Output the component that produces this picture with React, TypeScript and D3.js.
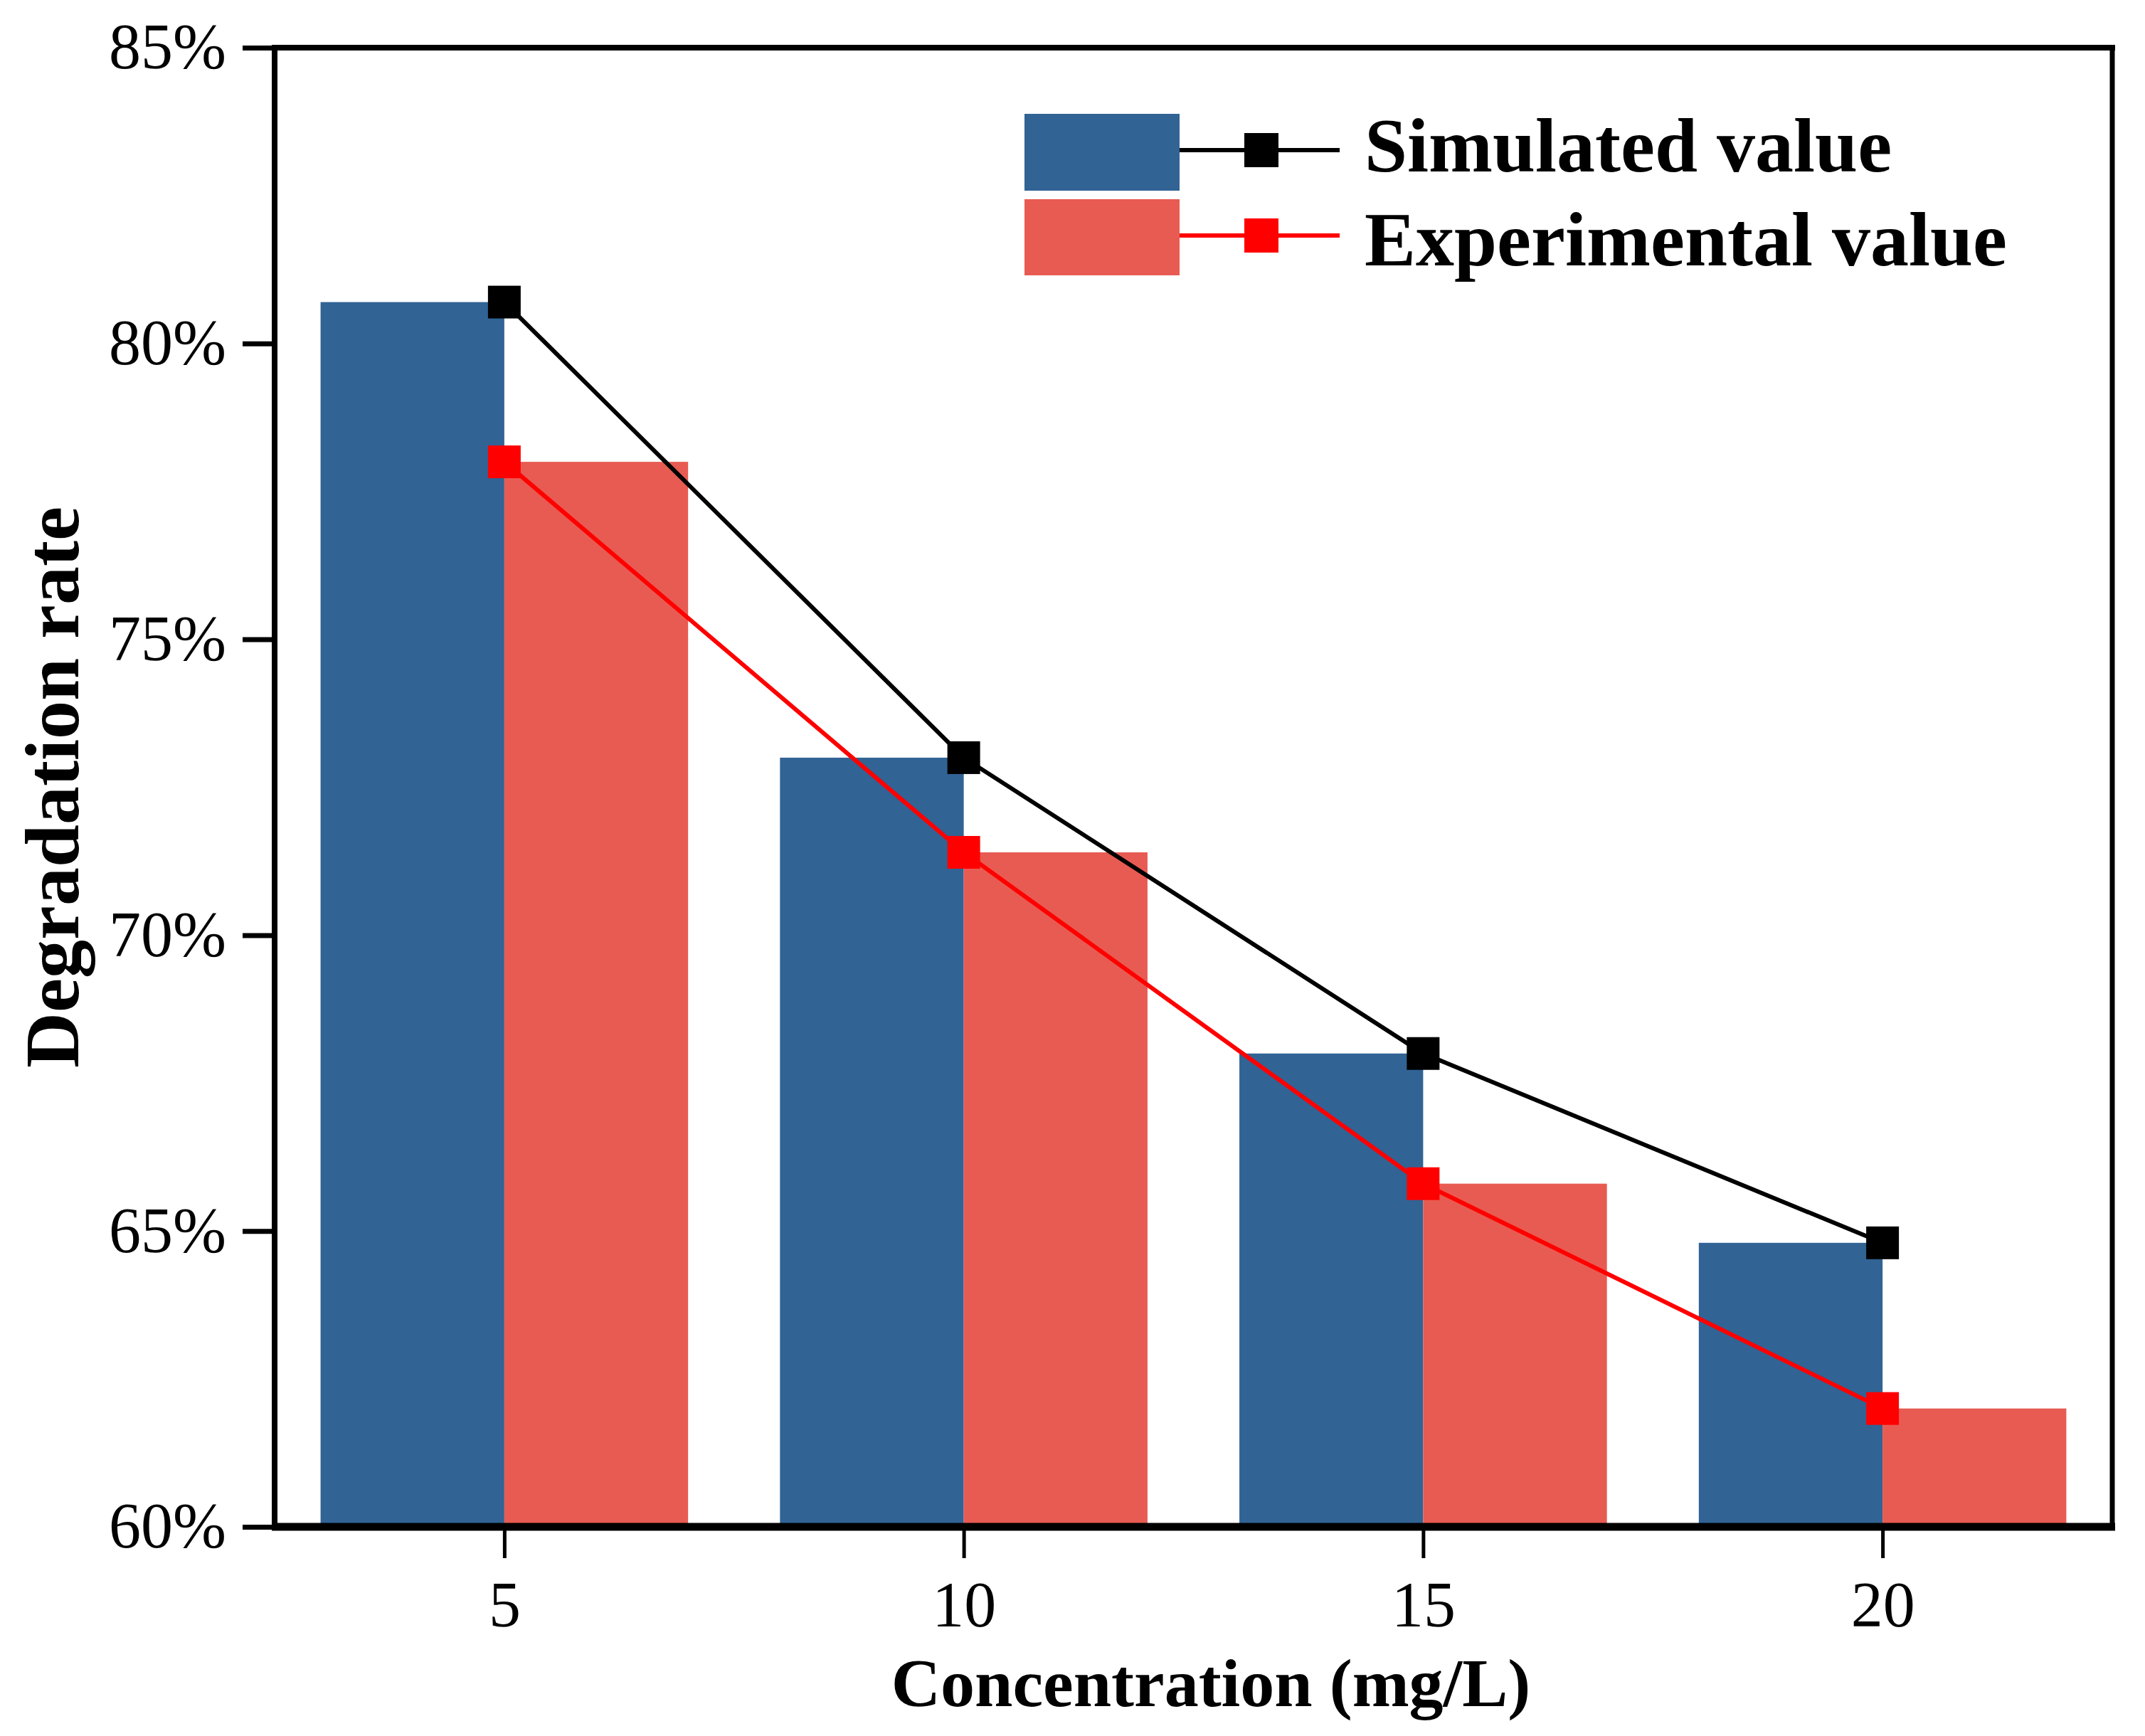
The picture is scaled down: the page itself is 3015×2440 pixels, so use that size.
import * as d3 from 'd3';
import { useEffect, useRef } from 'react';

const concentrations = [5, 10, 15, 20];
const simulated = [80.7, 73.0, 68.0, 64.8];
const experimental = [78.0, 71.4, 65.8, 62.0];
const yTicks = [60, 65, 70, 75, 80, 85];
const seriesNames = ['Simulated value', 'Experimental value'];

const BLUE = '#316395';
const RED = '#e85b52';
const FONT = '"Liberation Serif", "Times New Roman", serif';

const width = 3015;
const height = 2440;
const margin = { top: 67, right: 46, bottom: 294, left: 386 };
const plotRight = width - margin.right;
const plotBottom = height - margin.bottom;

const App = () => {
  const gx = useRef<SVGGElement | null>(null);
  const gy = useRef<SVGGElement | null>(null);

  const xScale = d3.scaleLinear().domain([2.5, 22.5]).range([margin.left, plotRight]);
  const yScale = d3.scaleLinear().domain([60, 85]).range([plotBottom, margin.top]);
  const halfBar = 2; // bar width in concentration units

  const line = d3
    .line<number>()
    .x((_d, i) => xScale(concentrations[i]))
    .y((d) => yScale(d));

  useEffect(() => {
    if (!gx.current) return;
    const g = d3.select(gx.current);
    g.call(
      d3
        .axisBottom(xScale)
        .tickValues(concentrations)
        .tickSize(40)
        .tickPadding(32)
        .tickFormat((d) => String(d))
    );
    g.select('.domain').remove();
    g.selectAll('line').attr('stroke', '#000').attr('stroke-width', 5);
    g.selectAll('text').attr('font-size', 90).attr('font-family', FONT).attr('fill', '#000');
  }, []);

  useEffect(() => {
    if (!gy.current) return;
    const g = d3.select(gy.current);
    g.call(
      d3
        .axisLeft(yScale)
        .tickValues(yTicks)
        .tickSize(41)
        .tickPadding(23)
        .tickFormat((d) => d + '%')
    );
    g.select('.domain').remove();
    g.selectAll('line').attr('stroke', '#000').attr('stroke-width', 7);
    g.selectAll('text').attr('font-size', 90).attr('font-family', FONT).attr('fill', '#000');
  }, []);

  const markerSize = 46;

  return (
    <svg
      width={width}
      height={height}
      style={{ position: 'absolute', left: 0, top: 0, background: '#fff' }}
    >
      {/* bars */}
      {concentrations.map((c, i) => (
        <g key={'bar' + c}>
          <rect
            x={xScale(c - halfBar)}
            y={yScale(simulated[i])}
            width={xScale(c) - xScale(c - halfBar)}
            height={plotBottom - yScale(simulated[i])}
            fill={BLUE}
          />
          <rect
            x={xScale(c)}
            y={yScale(experimental[i])}
            width={xScale(c + halfBar) - xScale(c)}
            height={plotBottom - yScale(experimental[i])}
            fill={RED}
          />
        </g>
      ))}

      {/* lines */}
      <path d={line(simulated) || ''} fill='none' stroke='#000' strokeWidth={6} />
      <path d={line(experimental) || ''} fill='none' stroke='#ff0000' strokeWidth={6} />
      {concentrations.map((c, i) => (
        <g key={'mk' + c}>
          <rect
            x={xScale(c) - markerSize / 2}
            y={yScale(simulated[i]) - markerSize / 2}
            width={markerSize}
            height={markerSize}
            fill='#000'
          />
          <rect
            x={xScale(c) - markerSize / 2}
            y={yScale(experimental[i]) - markerSize / 2}
            width={markerSize}
            height={markerSize}
            fill='#ff0000'
          />
        </g>
      ))}

      {/* frame */}
      <line x1={margin.left} x2={margin.left} y1={margin.top} y2={plotBottom} stroke='#000' strokeWidth={8} />
      <line x1={plotRight} x2={plotRight} y1={margin.top} y2={plotBottom} stroke='#000' strokeWidth={7} />
      <line x1={margin.left - 4} x2={plotRight + 4} y1={margin.top} y2={margin.top} stroke='#000' strokeWidth={8} />
      <line x1={margin.left - 4} x2={plotRight + 4} y1={plotBottom} y2={plotBottom} stroke='#000' strokeWidth={11} />

      <g ref={gx} transform={`translate(0,${plotBottom + 4})`} />
      <g ref={gy} transform={`translate(${margin.left - 4},0)`} />

      {/* axis titles */}
      <text
        x={1702}
        y={2398}
        textAnchor='middle'
        fontFamily={FONT}
        fontWeight='bold'
        fontSize={96}
      >
        Concentration (mg/L)
      </text>
      <text
        transform={`translate(110,${(margin.top + plotBottom) / 2}) rotate(-90)`}
        textAnchor='middle'
        fontFamily={FONT}
        fontWeight='bold'
        fontSize={108}
      >
        Degradation rate
      </text>

      {/* legend */}
      <g>
        <rect x={1440} y={160} width={218} height={108} fill={BLUE} />
        <rect x={1440} y={280} width={218} height={107} fill={RED} />
        <line x1={1658} x2={1883} y1={211} y2={211} stroke='#000' strokeWidth={6} />
        <line x1={1658} x2={1883} y1={331} y2={331} stroke='#ff0000' strokeWidth={6} />
        <rect x={1773 - 24} y={211 - 24} width={48} height={48} fill='#000' />
        <rect x={1773 - 24} y={331 - 24} width={48} height={48} fill='#ff0000' />
        <text x={1918} y={241} fontFamily={FONT} fontWeight='bold' fontSize={108}>
          {seriesNames[0]}
        </text>
        <text x={1918} y={373} fontFamily={FONT} fontWeight='bold' fontSize={108}>
          {seriesNames[1]}
        </text>
      </g>
    </svg>
  );
};

export default App;
